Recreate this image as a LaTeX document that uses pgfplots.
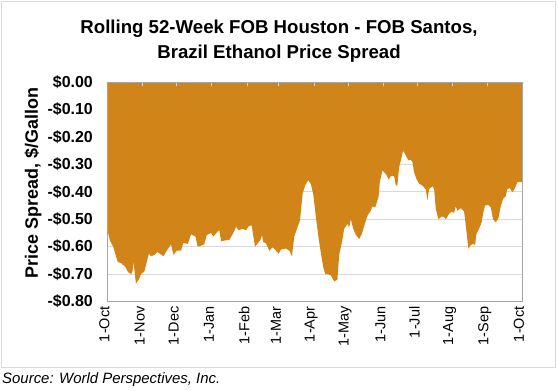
\documentclass[border=0pt]{standalone}
\usepackage{fontspec}
\setmainfont{Liberation Sans}
\usepackage{pgfplots}
\pgfplotsset{compat=1.18}
\definecolor{areaor}{RGB}{209,132,23}
\definecolor{gridg}{RGB}{217,217,217}
\definecolor{axisg}{RGB}{166,166,166}
\definecolor{frameg}{RGB}{217,217,217}
\tikzset{mlab/.style={font=\fontsize{14.5}{17}\selectfont, inner sep=0pt, rotate=90, anchor=east}}
\begin{document}
\begin{tikzpicture}
\path (0,0) rectangle (558bp,-391bp);
\draw[frameg, line width=1bp] (1.5bp,-1.5bp) rectangle (555bp,-367bp);
\node[font=\fontsize{18.7}{22}\selectfont\bfseries, anchor=base] at (279bp,-33bp) {Rolling 52-Week FOB Houston - FOB Santos,};
\node[font=\fontsize{18.7}{22}\selectfont\bfseries, anchor=base] at (279bp,-58bp) {Brazil Ethanol Price Spread};
\node[font=\fontsize{18}{21}\selectfont\bfseries, rotate=90] at (33bp,-183bp) {Price Spread, \$/Gallon};
\node[font=\fontsize{15}{18}\selectfont\itshape, anchor=base west, inner sep=0pt] at (2bp,-383bp) {Source: World Perspectives, Inc.};
\begin{axis}[
  at={(107.5bp,-301.5bp)}, anchor=south west,
  scale only axis, width=414.5bp, height=219.5bp,
  clip=false,
  xmin=0, xmax=365, ymin=-0.8, ymax=0,
  xtick=\empty,
  ytick={-0.8,-0.7,-0.6,-0.5,-0.4,-0.3,-0.2,-0.1,0},
  yticklabels={-\$0.80,-\$0.70,-\$0.60,-\$0.50,-\$0.40,-\$0.30,-\$0.20,-\$0.10,\$0.00},
  ytick style={draw=none},
  ymajorgrids, grid style={gridg, line width=1bp},
  axis line style={axisg, line width=1bp},
  yticklabel style={font=\fontsize{16}{19}\selectfont\bfseries, anchor=east, inner sep=0pt, xshift=-14.5bp},
]
\addplot[fill=areaor, draw=none] coordinates {
(0,-0.54) (2,-0.577) (5,-0.60) (9,-0.656) (12,-0.66) (16,-0.675) (18,-0.693) (21,-0.70) (22,-0.69) (23,-0.656) (25,-0.735) (27.5,-0.72) (29.6,-0.70) (32.5,-0.69) (34.6,-0.656) (36.4,-0.626) (38.4,-0.635) (41.3,-0.63) (43.7,-0.62) (46.3,-0.626) (49.3,-0.635) (52.2,-0.614) (56,-0.592) (58,-0.63) (61,-0.615) (64.8,-0.614) (66.8,-0.586) (70.7,-0.59) (73.6,-0.555) (77.4,-0.563) (79.4,-0.60) (82.4,-0.597) (85.3,-0.59) (87.4,-0.558) (91.2,-0.55) (93.2,-0.563) (97,-0.545) (98.5,-0.54) (100,-0.581) (102.9,-0.578) (107.3,-0.575) (110.8,-0.55) (113.2,-0.528) (115.5,-0.54) (119,-0.535) (122,-0.54) (124.3,-0.526) (126.9,-0.522) (129.9,-0.60) (132.2,-0.588) (134.6,-0.576) (136.1,-0.558) (137.2,-0.583) (139.6,-0.588) (142.5,-0.615) (145.4,-0.602) (148.4,-0.615) (150.7,-0.626) (152.8,-0.61) (157.2,-0.607) (160.1,-0.615) (162.4,-0.635) (164.5,-0.563) (167.4,-0.528) (169.5,-0.504) (171.8,-0.407) (174.1,-0.376) (176.8,-0.358) (179.1,-0.372) (181.2,-0.41) (183.5,-0.492) (185.9,-0.57) (188,-0.626) (190,-0.675) (191.7,-0.70) (193.8,-0.70) (196.7,-0.705) (199.6,-0.727) (202.5,-0.72) (204,-0.63) (206.4,-0.585) (208.4,-0.535) (211.3,-0.517) (212.8,-0.53) (214.3,-0.50) (216.4,-0.535) (218.7,-0.557) (221.6,-0.572) (224,-0.554) (226,-0.525) (228.9,-0.487) (231.9,-0.469) (233.3,-0.453) (235.7,-0.457) (238.6,-0.42) (239.8,-0.365) (242.1,-0.322) (245.6,-0.338) (247.4,-0.355) (249.5,-0.343) (252.4,-0.343) (253.9,-0.378) (255.3,-0.375) (256.8,-0.31) (258.3,-0.286) (260.3,-0.25) (262.7,-0.268) (265,-0.286) (267.1,-0.283) (268.5,-0.292) (270,-0.329) (272,-0.353) (274.4,-0.371) (277.3,-0.377) (280.3,-0.392) (281.7,-0.432) (283.2,-0.39) (286.1,-0.38) (287.6,-0.39) (289.1,-0.462) (291.4,-0.50) (294.4,-0.49) (296.4,-0.493) (297.9,-0.50) (300.8,-0.48) (303.1,-0.472) (305.2,-0.477) (306.7,-0.453) (308.1,-0.469) (311.1,-0.46) (314,-0.472) (315.5,-0.523) (317.8,-0.608) (319.9,-0.594) (321.9,-0.59) (323.7,-0.594) (324.8,-0.554) (327.2,-0.535) (329.5,-0.511) (330.7,-0.48) (332.4,-0.45) (335.4,-0.448) (337.5,-0.457) (339.5,-0.50) (341.9,-0.511) (344.2,-0.497) (346.3,-0.453) (348.3,-0.426) (350.7,-0.416) (352.1,-0.39) (354.2,-0.387) (356.5,-0.402) (358.8,-0.387) (360.9,-0.365) (363.9,-0.365) (365,-0.365)
} \closedcycle;
\node[mlab] at ([xshift=-3bp,yshift=-5bp]axis cs:0,-0.8) {1-Oct};
\node[mlab] at ([xshift=-3bp,yshift=-5bp]axis cs:31,-0.8) {1-Nov};
\node[mlab] at ([xshift=-3bp,yshift=-5bp]axis cs:61,-0.8) {1-Dec};
\node[mlab] at ([xshift=-3bp,yshift=-5bp]axis cs:92,-0.8) {1-Jan};
\node[mlab] at ([xshift=-3bp,yshift=-5bp]axis cs:123,-0.8) {1-Feb};
\node[mlab] at ([xshift=-3bp,yshift=-5bp]axis cs:151,-0.8) {1-Mar};
\node[mlab] at ([xshift=-3bp,yshift=-5bp]axis cs:182,-0.8) {1-Apr};
\node[mlab] at ([xshift=-3bp,yshift=-5bp]axis cs:212,-0.8) {1-May};
\node[mlab] at ([xshift=-3bp,yshift=-5bp]axis cs:243,-0.8) {1-Jun};
\node[mlab] at ([xshift=-3bp,yshift=-5bp]axis cs:273,-0.8) {1-Jul};
\node[mlab] at ([xshift=-3bp,yshift=-5bp]axis cs:304,-0.8) {1-Aug};
\node[mlab] at ([xshift=-3bp,yshift=-5bp]axis cs:335,-0.8) {1-Sep};
\node[mlab] at ([xshift=-3bp,yshift=-5bp]axis cs:365,-0.8) {1-Oct};
\end{axis}
\begin{axis}[
  at={(107.5bp,-301.5bp)}, anchor=south west,
  scale only axis, width=414.5bp, height=219.5bp,
  xmin=0, xmax=365, ymin=-0.8, ymax=0,
  xtick={0,31,61,92,123,151,182,212,243,273,304,335,365},
  xticklabels={}, ytick=\empty,
  xtick pos=top, xtick align=inside,
  major tick length=4bp,
  xtick style={gridg, line width=1bp},
  axis line style={axisg, line width=1bp},
]
\end{axis}
\end{tikzpicture}
\end{document}
